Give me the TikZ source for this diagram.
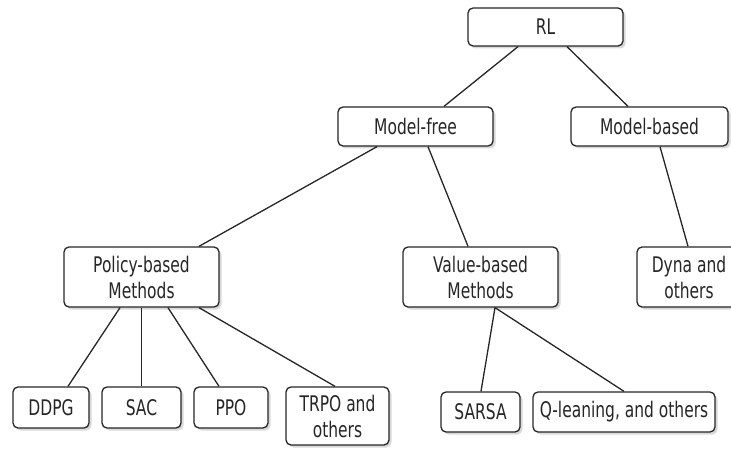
\documentclass[tikz,border=0pt]{standalone}
\usepackage{fontspec}
\setmainfont{DejaVu Sans}[FakeStretch=0.72]
\usetikzlibrary{shadows}

\begin{document}
\begin{tikzpicture}[x=1pt,y=-1pt,line width=1.3pt]
	\tikzset{box/.style={draw=black!85,rounded corners=5pt,fill=white,align=center,inner sep=0pt,
		text=black!85,font=\fontsize{21.5}{26}\selectfont,
		drop shadow={shadow xshift=2.5pt,shadow yshift=-2.5pt,opacity=0.3}}}
	\useasboundingbox (0,0) rectangle (731,449);
	% top levels
	\node[box,minimum width=155pt,minimum height=38pt]	(rl)	 at (545.5,27)	{RL};
	\node[box,minimum width=155pt,minimum height=39pt]	(mfree)	 at (415.5,126.5)	{Model-free};
	\node[box,minimum width=157pt,minimum height=39pt]	(mbased) at (649.5,126.5)	{Model-based};
	\node[box,minimum width=155pt,minimum height=60pt]	(policy) at (141.5,277)	{Policy-based\\Methods};
	\node[box,minimum width=155pt,minimum height=60pt]	(value)	 at (480.5,277)	{Value-based\\Methods};
	\node[box,minimum width=104pt,minimum height=60pt]	(dyna)	 at (689,277)	{Dyna and\\others};
	% leaves
	\node[box,minimum width=76pt,minimum height=41pt]	(ddpg)	 at (51,407.5)	{DDPG};
	\node[box,minimum width=79pt,minimum height=41pt]	(sac)	 at (141.5,407.5)	{SAC};
	\node[box,minimum width=74pt,minimum height=41pt]	(ppo)	 at (231,407.5)	{PPO};
	\node[box,minimum width=103pt,minimum height=58pt]	(trpo)	 at (337.5,416)	{TRPO and\\others};
	\node[box,minimum width=79pt,minimum height=40pt]	(sarsa)	 at (480.5,412)	{SARSA};
	\node[box,minimum width=182pt,minimum height=40pt]	(qlearn) at (624,412)	{Q-leaning, and others};
	% connectors
	\foreach \a/\sa/\b/\sb in {rl/-27.5/mfree/28.5, rl/21.5/mbased/-21.5,
			mfree/-38.5/policy/57.5, mfree/12.5/value/-12.5, mbased/10.5/dyna/-1,
			policy/-21.5/ddpg/17, policy/0/sac/0, policy/26.5/ppo/-12, policy/57.5/trpo/-2.5,
			value/14.5/sarsa/0.5, value/14.5/qlearn/0}
		\draw[black!85] ([xshift=\sa pt]\a.south) -- ([xshift=\sb pt]\b.north);
\end{tikzpicture}
\end{document}
